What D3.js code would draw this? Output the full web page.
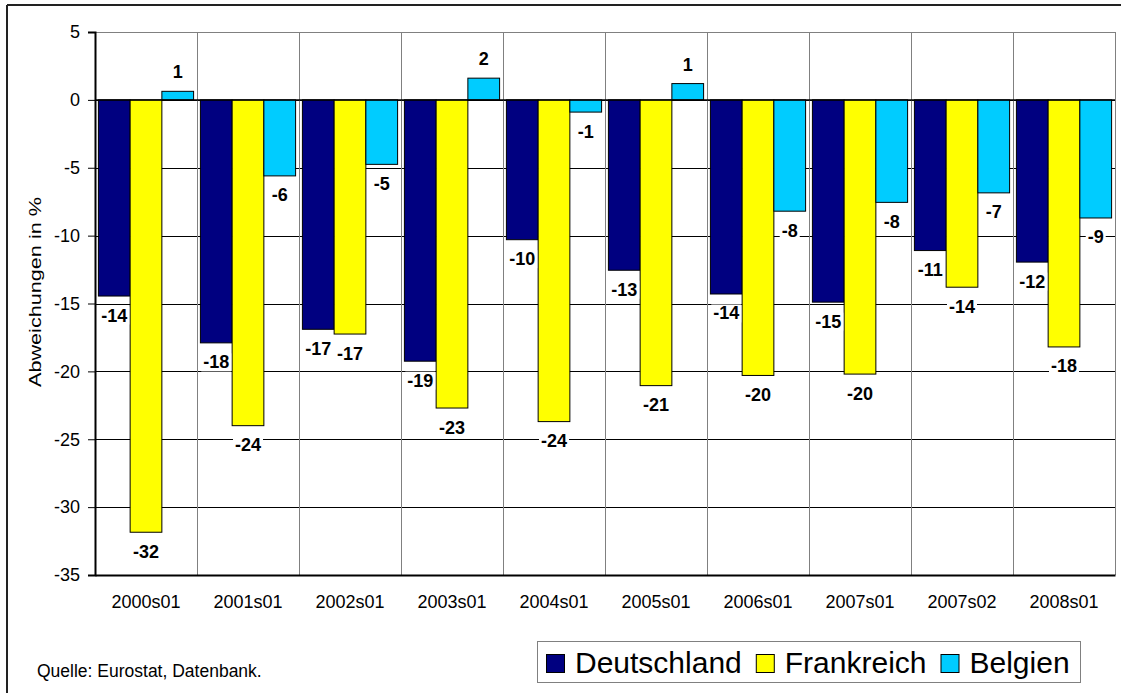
<!DOCTYPE html>
<html>
<head>
<meta charset="utf-8">
<script src="https://cdn.jsdelivr.net/npm/d3@7"></script>
<style>
	body { margin: 0; background: #ffffff; }
	svg { display: block; font-family: Arial, 'Liberation Sans', sans-serif; }
</style>
</head>
<body>
<svg id="chart" width="1121" height="693"></svg>
<script>
'use strict';

// Data (deviation in %)
var arrayCategories = ['2000s01', '2001s01', '2002s01', '2003s01', '2004s01', '2005s01', '2006s01', '2007s01', '2007s02', '2008s01'];
var arraySeries = ['Deutschland', 'Frankreich', 'Belgien'];
var arrayDeutschland = [-14.45, -17.9, -16.9, -19.25, -10.3, -12.55, -14.3, -14.9, -11.1, -11.95];
var arrayFrankreich = [-31.85, -24.0, -17.25, -22.7, -23.7, -21.05, -20.3, -20.2, -13.8, -18.2];
var arrayBelgien = [0.63, -5.6, -4.75, 1.6, -0.9, 1.2, -8.2, -7.55, -6.85, -8.7];
var arrayYTicks = [5, 0, -5, -10, -15, -20, -25, -30, -35];

var arrayColors = ['#000080', '#ffff00', '#00ccff'];

function D3_GroupedBarChart(selector)
{
	var svg = d3.select(selector);
	if (svg.empty() == true)
	{
		console.log('D3_GroupedBarChart: Could not identify element based on selector: '+selector);
		return;
	}

	var arrayValues = [arrayDeutschland, arrayFrankreich, arrayBelgien];

	var nLeft = 95, nRight = 1115, nTop = 32, nBottom = 575;

	var xScale = d3.scaleBand()
		.domain(arrayCategories)
		.range([nLeft, nRight]);

	var xInner = d3.scaleBand()
		.domain(arraySeries)
		.range([3.4, xScale.bandwidth() - 3.4]);

	var yScale = d3.scaleLinear()
		.domain([-35, 5])
		.range([nBottom, nTop]);

	// outer frame (only top and left edges are visible)
	svg.append('line').attr('x1', 7).attr('x2', 1121).attr('y1', 5).attr('y2', 5)
		.attr('stroke', '#222').attr('stroke-width', 2);
	svg.append('line').attr('x1', 7).attr('x2', 7).attr('y1', 5).attr('y2', 693)
		.attr('stroke', '#222').attr('stroke-width', 2);

	// horizontal gridlines
	svg.append('g')
		.selectAll('line')
		.data(arrayYTicks)
		.enter()
		.append('line')
		.attr('x1', nLeft).attr('x2', nRight)
		.attr('y1', function(d) { return Math.round(yScale(d)) + 0.5; })
		.attr('y2', function(d) { return Math.round(yScale(d)) + 0.5; })
		.attr('stroke', function(d) { return d == 5 ? '#808080' : '#000'; })
		.attr('stroke-width', 1);

	// vertical gridlines at category boundaries
	svg.append('g')
		.selectAll('line')
		.data(arrayCategories.slice(1))
		.enter()
		.append('line')
		.attr('x1', function(d) { return Math.round(xScale(d)) + 0.5; })
		.attr('x2', function(d) { return Math.round(xScale(d)) + 0.5; })
		.attr('y1', nTop).attr('y2', nBottom)
		.attr('stroke', '#808080');

	// right border of plot area
	svg.append('line').attr('x1', nRight + 0.5).attr('x2', nRight + 0.5).attr('y1', nTop).attr('y2', nBottom)
		.attr('stroke', '#808080');

	// bars
	var groups = svg.append('g')
		.selectAll('g')
		.data(arraySeries)
		.enter()
		.append('g')
		.attr('fill', function(d, i) { return arrayColors[i]; });

	groups.selectAll('rect')
		.data(function(d, i) {
			return arrayValues[i].map(function(v, j) { return {series: d, cat: arrayCategories[j], value: v}; });
		})
		.enter()
		.append('rect')
		.attr('x', function(d) { return xScale(d.cat) + xInner(d.series); })
		.attr('width', xInner.bandwidth())
		.attr('y', function(d) { return yScale(Math.max(0, d.value)); })
		.attr('height', function(d) { return Math.abs(yScale(d.value) - yScale(0)); })
		.attr('stroke', '#000')
		.attr('stroke-width', 1);

	// axes
	var yAxis = d3.axisLeft(yScale)
		.tickValues(arrayYTicks)
		.tickFormat(function(d) { return String(d); })
		.tickSize(7)
		.tickPadding(8);

	var gY = svg.append('g')
		.attr('transform', 'translate(' + nLeft + ',0)')
		.call(yAxis);
	gY.select('.domain').attr('stroke', '#000').attr('stroke-width', 2);
	gY.selectAll('.tick line').attr('stroke', '#000');
	gY.selectAll('.tick text')
		.attr('font-size', 18)
		.attr('font-family', 'Arial, Liberation Sans, sans-serif')
		.attr('fill', '#000');

	var xAxis = d3.axisBottom(xScale)
		.tickSize(0)
		.tickPadding(20);

	var gX = svg.append('g')
		.attr('transform', 'translate(0,' + nBottom + ')')
		.call(xAxis);
	gX.select('.domain').attr('stroke', '#000').attr('stroke-width', 2);
	gX.selectAll('.tick text')
		.attr('font-size', 18)
		.attr('font-family', 'Arial, Liberation Sans, sans-serif')
		.attr('fill', '#000');

	// zero line
	svg.append('line')
		.attr('x1', nLeft).attr('x2', nRight)
		.attr('y1', yScale(0)).attr('y2', yScale(0))
		.attr('stroke', '#000').attr('stroke-width', 1.5);

	// y axis title
	svg.append('text')
		.attr('transform', 'translate(41,292) rotate(-90)')
		.attr('text-anchor', 'middle')
		.attr('font-size', 16)
		.attr('textLength', 190)
		.attr('lengthAdjust', 'spacingAndGlyphs')
		.text('Abweichungen in %');

	// value labels with white background
	var labelLayer = svg.append('g');
	arraySeries.forEach(function(strSeries, i) {
		arrayValues[i].forEach(function(v, j) {
			var x = xScale(arrayCategories[j]) + xInner(strSeries) + xInner.bandwidth() / 2;
			var y = v < 0 ? yScale(v) + 25.5 : yScale(v) - 13;
			var g = labelLayer.append('g');
			var bg = g.append('rect').attr('fill', '#fff');
			var t = g.append('text')
				.attr('x', x).attr('y', y)
				.attr('text-anchor', 'middle')
				.attr('font-size', 18)
				.attr('font-weight', 'bold')
				.text(Math.round(v));
			var bb = t.node().getBBox();
			bg.attr('x', bb.x - 2).attr('y', bb.y + 1).attr('width', bb.width + 4).attr('height', bb.height - 2);
		});
	});

	// source note
	svg.append('text')
		.attr('x', 37).attr('y', 677)
		.attr('font-size', 17.5)
		.text('Quelle: Eurostat, Datenbank.');

	// legend
	var legend = svg.append('g');
	legend.append('rect')
		.attr('x', 537.5).attr('y', 641.5)
		.attr('width', 543).attr('height', 41)
		.attr('fill', '#fff')
		.attr('stroke', '#808080');
	var nX = 546;
	arraySeries.forEach(function(strSeries, i) {
		legend.append('rect')
			.attr('x', nX + 0.5).attr('y', 654.5)
			.attr('width', 18).attr('height', 18)
			.attr('fill', arrayColors[i])
			.attr('stroke', '#000');
		var t = legend.append('text')
			.attr('x', nX + 29).attr('y', 673)
			.attr('font-size', 30)
			.text(strSeries);
		nX = nX + 29 + t.node().getComputedTextLength() + 14;
	});
}

D3_GroupedBarChart('#chart');
</script>
</body>
</html>
